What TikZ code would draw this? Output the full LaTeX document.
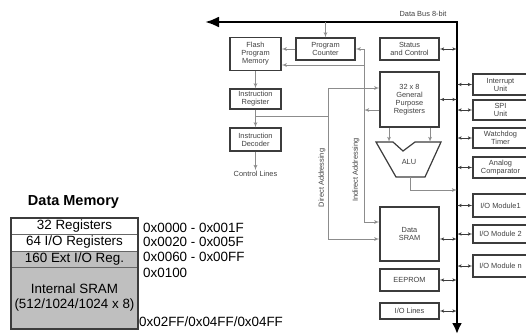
\documentclass[tikz,border=0pt]{standalone}
\usepackage{fontspec}
\setmainfont{Liberation Sans}
\usepackage{tikz}
\usetikzlibrary{arrows, arrows.meta}
\definecolor{boxgray}{HTML}{3C3C3C}
\definecolor{linkgray}{HTML}{8C8C8C}
\definecolor{memgray}{HTML}{BFBFBF}
\tikzset{block/.style = {shape = rectangle, draw = boxgray, line width = 1.2pt, align = center, inner sep = 0pt, text = black!75, font = \fontsize{7.4}{8}\selectfont}}
\tikzset{tag/.style = {inner sep = 1pt, text = black!75, font = \fontsize{7.4}{8}\selectfont}}
\tikzset{link/.style = {->, > = latex', draw = linkgray, line width = 0.8pt}}
\tikzset{duplex/.style = {<->, > = latex', draw = boxgray, line width = 0.6pt}}
\tikzset{bus/.style = {line width = 2.5pt, {Latex[length = 14pt, width = 11pt]}-{Latex[length = 11pt, width = 10pt]}}}
\tikzset{memrow/.style = {shape = rectangle, draw = black!60, line width = 0.6pt, minimum width = 127pt, inner sep = 0pt, align = center, font = \fontsize{13.4}{15}\selectfont}}
\tikzset{addr/.style = {anchor = west, inner sep = 0pt, font = \fontsize{13.4}{15}\selectfont}}

\begin{document}
\begin{tikzpicture}[x = 1pt, y = -1pt]
	\useasboundingbox (0, 0) rectangle (526, 333);
	\clip (0, 0) rectangle (526, 333);

	% data bus
	\coordinate (busL) at (205, 22);
	\coordinate (busC) at (457, 22);
	\coordinate (busB) at (457, 334);
	\draw[bus] (busL) -- (busC) -- (busB);
	\node[tag] (bustag) at (423, 14) {Data Bus 8-bit};

	% core blocks
	\node[block, minimum width = 51pt, minimum height = 33pt] (flash) at (255.5, 54) {Flash\\Program\\Memory};
	\node[block, minimum width = 59pt, minimum height = 22pt] (pc) at (325.5, 49) {Program\\Counter};
	\node[block, minimum width = 59pt, minimum height = 22pt] (stat) at (409.5, 49) {Status\\and Control};
	\node[block, minimum width = 59pt, minimum height = 55pt] (gpr) at (409.5, 99.5) {32 x 8\\General\\Purpose\\Registers};
	\node[block, minimum width = 51pt, minimum height = 20pt] (ir) at (255.5, 99) {Instruction\\Register};
	\node[block, minimum width = 51pt, minimum height = 23pt] (idec) at (255.5, 139.5) {Instruction\\Decoder};
	\node[tag] (ctl) at (255.5, 174) {Control Lines};
	\node[block, minimum width = 59pt, minimum height = 54pt] (dsram) at (409.5, 234) {Data\\SRAM};
	\node[block, minimum width = 59pt, minimum height = 22pt] (eeprom) at (409.5, 280) {EEPROM};
	\node[block, minimum width = 59pt, minimum height = 16pt] (iol) at (409.5, 311) {I/O Lines};

	% alu
	\draw[draw = boxgray, line width = 1.2pt] (376, 142) -- (393, 142) -- (403, 151) -- (415, 142) -- (441, 142) -- (425, 177) -- (396, 177) -- cycle;
	\node[tag] (alu) at (409, 162) {ALU};

	% peripherals
	\node[block, minimum width = 55pt, minimum height = 21pt] (intr) at (500.5, 84.5) {Interrupt\\Unit};
	\node[block, minimum width = 55pt, minimum height = 20pt] (spi) at (500.5, 110) {SPI\\Unit};
	\node[block, minimum width = 55pt, minimum height = 20pt] (wdt) at (500.5, 138) {Watchdog\\Timer};
	\node[block, minimum width = 55pt, minimum height = 21pt] (acmp) at (500.5, 167.5) {Analog\\Comparator};
	\node[block, minimum width = 55pt, minimum height = 23pt] (io1) at (500.5, 205.5) {I/O Module1};
	\node[block, minimum width = 55pt, minimum height = 18pt] (io2) at (500.5, 234) {I/O Module 2};
	\node[block, minimum width = 55pt, minimum height = 22pt] (ion) at (500.5, 266) {I/O Module n};

	% bus ports
	\coordinate (dsramport) at ([yshift = -5pt]dsram.east);
	\draw[duplex] (stat) to (stat -| busC);
	\draw[duplex] (gpr) to (gpr -| busC);
	\draw[duplex] (dsramport) to (dsramport -| busC);
	\draw[duplex] (eeprom) to (eeprom -| busC);
	\draw[duplex] (iol) to (iol -| busC);
	\draw[duplex] (intr) to (intr -| busC);
	\draw[duplex] (spi) to (spi -| busC);
	\draw[duplex] (wdt) to (wdt -| busC);
	\draw[duplex] (acmp) to (acmp -| busC);
	\draw[duplex] (io1) to (io1 -| busC);
	\draw[duplex] (io2) to (io2 -| busC);
	\draw[duplex] (ion) to (ion -| busC);

	% instruction path
	\draw[link] (pc.north |- busC) to (pc);
	\draw[link] (pc) to (pc -| flash.east);
	\draw[link] (flash) to (ir);
	\draw[link] (ir) to (idec);
	\draw[link] (idec) to (ctl);

	% direct addressing
	\coordinate (da) at (328, 116);
	\coordinate (gprin) at ([yshift = 11.5pt]gpr.west);
	\coordinate (dsramin) at ([yshift = -5pt]dsram.west);
	\draw[link, -] (ir.south |- da) -- (da);
	\draw[link] (da) |- (gprin);
	\draw[link] (da) |- (dsramin);
	\node[tag, rotate = 90] (datag) at (322, 178) {Direct Addressing};

	% indirect addressing
	\coordinate (ia) at (364, 110);
	\coordinate (gprout) at ([yshift = -10.5pt]gpr.west);
	\coordinate (flashin) at ([yshift = -11pt]flash.east);
	\coordinate (dsramind) at ([yshift = 12pt]dsram.west);
	\draw[link] (gprout) -- (ia);
	\draw[link] (ia) |- (pc.east);
	\draw[link] (ia) |- (flashin);
	\draw[link] (ia) |- (dsramind);
	\node[tag, rotate = 90] (iatag) at (356, 170) {Indirect Addressing};

	% alu links
	\coordinate (aluA) at (389, 142);
	\coordinate (aluB) at (430, 142);
	\coordinate (aluout) at (410, 177);
	\coordinate (alubend) at (410, 190);
	\draw[link] (gpr.south -| aluA) to (aluA);
	\draw[link] (gpr.south -| aluB) to (aluB);
	\draw[link] (aluout) |- (alubend -| busC);

	% data memory map
	\node[font = \fontsize{14.5}{16}\selectfont\bfseries] (memtitle) at (73.5, 202) {Data Memory};
	\node[memrow, fill = white, minimum height = 16pt] (regs) at (74.5, 226) {32 Registers};
	\node[memrow, fill = white, minimum height = 17pt] (ioregs) at (74.5, 242.5) {64 I/O Registers};
	\node[memrow, fill = memgray, minimum height = 16pt] (extio) at (74.5, 259) {160 Ext I/O Reg.};
	\node[memrow, fill = memgray, minimum height = 62pt] (sram) at (74.5, 298) {Internal SRAM\\(512/1024/1024 x 8)};
	\draw[draw = boxgray, line width = 1.8pt] (regs.north west) rectangle (sram.south east);
	\node[addr] (adr1) at (143, 228) {0x0000 - 0x001F};
	\node[addr] (adr2) at (143, 242) {0x0020 - 0x005F};
	\node[addr] (adr3) at (143, 257) {0x0060 - 0x00FF};
	\node[addr] (adr4) at (143, 273) {0x0100};
	\node[addr] (adr5) at (139, 322) {0x02FF/0x04FF/0x04FF};
\end{tikzpicture}
\end{document}
